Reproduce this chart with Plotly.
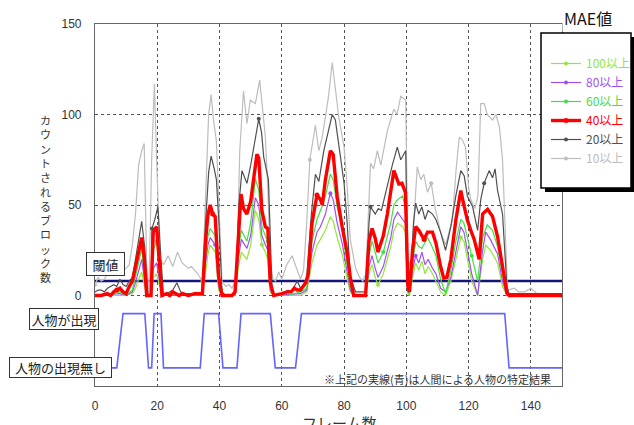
import plotly.graph_objects as go

# ---------------- data (frame, count) ----------------
S10 = [(0,6),(1,10),(2,8),(3,9),(4,12),(5,13),(6,14),(7,12),(8,17),(9,14),(10,15),(11,17),(12,28),(13,45),
       (14,72),(15,80),(15.8,84),(16.6,17),(17.3,0),(18.2,75),(19.1,117),(19.8,75),(20.9,20),(22,17),(23.5,22),
       (25,16),(26.5,24),(28,18),(30,15),(31,16),(33,12),(34.5,8),(35.5,60),(36.5,100),(37.3,111),(38,98),(39,85),
       (40,40),(40.8,8),(42,5),(43,6),(44,4),(45.5,10),(46.5,80),(47.7,113),(48.8,95),(49.9,108),(51.5,106),
       (52.9,119),(54.7,88),(55.5,60),(56.3,18),(57.2,9),(58,8),(59,13),(60,9),(61.6,17),(63.3,22),(64.9,14),
       (66,9),(67,14),(68,40),(69,75),(70.8,94),(71.9,80),(72.9,87),(74,98.5),(75,110),(76.2,128.7),(77.2,113),
       (78.3,98.5),(80,82),(81,60),(82,31),(83.7,15),(85,10),(86,8),(87,12),(88.5,73),(89.5,70),(90.7,80),
       (91.8,72),(93.9,91),(96,103),(97,100),(98.2,110),(99.8,108),(100.5,20),(101.5,15),(103.5,71),(104.6,64),
       (105.6,67),(106.8,57),(108,62),(109.3,48),(111,35),(112.6,28),(114.8,42),(116,70),(117,87.5),(118,86),
       (119,82),(120,60),(120.7,53),(122,48),(123,55),(123.9,106),(125,106),(126,100),(127.7,97),(128.8,100),
       (129.9,93),(130.9,75),(132.5,3),(134.7,4),(136,2),(138,2),(140,4),(142,1),(144,1),(146,0),(150,0)]

S20 = [(0,2),(1,3),(2,3),(3,2),(4,4),(5,5),(6,6),(7,5),(8,9),(9,6),(10,5),(11,8),(12,10),(13,20),(14,30),
       (15,41),(16,26),(17,0),(18,0),(18.3,37),(19.2,42),(20.2,49),(21.2,20),(22,0),(23,1),(24,2),(25,3),
       (26.3,7),(27.5,2),(29,1),(31,1),(33,1),(34.5,2),(35.5,40),(36.5,68),(37.3,77),(38.3,70),(39,64),
       (39.8,40),(40.8,2),(42,0),(44,0),(45.2,3),(46.2,50),(47.2,69),(48.8,62),(49.9,71),(51.2,84),(52.6,97.6),
       (53.5,90),(54.2,76.5),(55.7,64),(56.9,2),(58,0),(60,1),(62,3),(63,2),(64,5),(65,8),(66,4),(67,6),(68,10),
       (69.5,45),(70.8,67),(71.9,63),(73.5,80),(75.1,92),(76.2,100),(77.2,97),(78.3,82),(80,62),(81,40),(82,10),
       (83.7,2),(85,2),(87,2),(88,40),(88.5,49),(90,45),(91,48),(92,47),(93.9,61),(95.5,72),(97.1,82),(98.2,75),
       (99.8,80),(100.5,5),(101.2,2),(102.3,40),(103,51),(104,45),(105,49),(106,42),(107,47),(108.4,45),
       (109.5,42),(111,35),(112.6,25),(114.3,38),(115.9,55),(117.5,69),(118.6,66),(119.6,55),(121.3,49),
       (122.9,36),(123.9,53),(125,62),(126.6,69),(127.7,65),(128.5,70),(129.3,58),(130.9,45),(132.3,5),(133,1),
       (150,1)]

S40 = [(0,0),(2,0),(4,1),(5,0),(6,2),(7,3),(8,4),(9,2),(10,1),(11,5),(12,8),(12.9,15),(13.9,24),(15,32),
       (15.8,21),(16.6,0),(18,0),(18.7,35),(19.8,38),(20.9,14),(21.5,0),(23,1),(24,0),(25,2),(26,1),(27,0),
       (28,1),(30,0),(32,1),(34.5,1),(35.5,30),(36.3,45),(37,50),(37.8,45),(38.6,43.6),(39.7,10.6),(40.8,0),
       (44,0),(45,2),(46,35),(46.9,56),(47.7,48),(48.8,45),(50,52),(51,65),(52,78),(52.6,76),(53.6,47),
       (54.7,38),(55.5,37),(56.3,7),(57.4,0),(60,1),(61.7,2),(63,2),(64,4),(65,3),(66,3),(67.7,7),(68.5,12),
       (69.7,40),(71.3,55.5),(72.4,53),(73,50),(74,64),(75.6,80),(76.5,78),(77.8,54.6),(79.4,38),(81,23.6),
       (82,10),(83.1,0),(86.9,0),(88,30),(89,37),(90,31.6),(90.9,24),(92.6,33),(93.9,45),(95,58),(96,69),
       (97.6,61.6),(98.6,62),(99.7,57),(100.5,5),(101,2),(102,25),(103,38),(104,36),(105.7,31),(106.8,35),
       (108.4,35),(109.5,29),(111,16),(112,9.7),(113,10),(114.3,20),(115.9,41.7),(117.5,58),(118.1,53),
       (119.6,41.7),(120.7,36),(121.8,31),(123.4,20),(124.5,45),(126.1,47.6),(127.7,43.6),(129.3,32.6),
       (130.9,16),(132.3,1.5),(133,0),(150,0)]

S60 = [(0,0),(5,0),(8,2),(10,0),(12,3),(13,10),(14,18),(15,26),(15.8,14),(16.6,0),(18,0),(18.7,25),(19.8,30),
       (20.9,8),(21.5,0),(25,1),(30,0),(34.5,0),(35.5,22),(36.3,33),(37,37),(37.8,35),(38.6,33),(39.7,7),
       (40.8,0),(45,0),(46,25),(47,36),(48,33),(48.8,30),(50,40),(51.5,64.6),(52.6,58),(53.6,38),(54.7,33),
       (55.5,30),(56.3,5),(57.4,0),(62,0),(64,1),(66,2),(68,4),(69.7,30),(71.3,42),(72.9,49),(74,55),(75.6,67),
       (76.5,64),(77.8,49),(79.5,35),(81,18),(82,5),(83.1,0),(87,0),(88,22),(89,30),(90,24),(90.9,18),(92.6,24),
       (93.9,33),(95,40),(96,50),(97.2,53),(98.8,55),(99.7,48),(100.5,3),(101,1),(102,18),(103,30),(104,27),
       (105,26),(106.8,32),(108,28),(109.5,22),(111,9),(112.6,1),(114.3,14),(115.9,30),(117.5,42),(118.5,40),
       (119.6,32),(121,22),(122.9,8),(124.5,32),(126,39),(127.7,36),(129.3,27),(130.9,12),(132.3,1),(133,0),
       (150,0)]

S80 = [(0,0),(8,1),(10,0),(12,2),(13,7),(14,14),(15,20),(15.8,10),(16.6,0),(18,0),(18.7,15),(19.8,18),
       (20.9,5),(21.5,0),(34.5,0),(35.5,18),(36.3,28),(37,32),(37.8,30),(38.6,28),(39.7,5),(40.8,0),(45,0),
       (46,20),(47,31),(48,28),(48.8,26),(50,33),(51.5,54),(52.6,50),(53.6,33),(54.7,28),(55.5,25),(56.3,3),
       (57.4,0),(66,1),(68,3),(69.7,24),(71.3,35),(72.4,38),(74,45),(75.6,56.5),(76.5,53),(77.8,40),(79.5,28),
       (81,13),(82,3),(83.1,0),(87,0),(88,16),(89,22),(90,15),(90.9,10),(92.6,16),(93.9,25),(95,32),(96,42),
       (97.2,46),(98.8,42),(99.7,40),(100.5,2),(101,1),(102,14),(103,22),(104,18),(105,24),(106,17),(107,20),
       (108.4,15),(109.5,12),(111,4),(112.6,2),(114.3,10),(115.9,25),(117.5,38),(118.5,35),(119.6,25),
       (121,12),(122.9,0),(124.5,25),(125.5,35),(127,31),(129.3,23),(130.9,8),(132.3,0),(150,0)]

S100 = [(0,0),(8,0),(12,1),(13,4),(14,9),(15,13),(15.8,6),(16.6,0),(18,0),(18.7,10),(19.8,12),(20.9,3),
        (21.5,0),(34.5,0),(35.5,14),(36.3,23),(37,28),(37.8,26),(38.6,24),(39.7,3),(40.8,0),(45,0),(46,15),
        (47,24),(48,22),(48.8,20),(50,28),(51.5,47),(52.6,42),(53.6,28),(54.7,24),(55.5,20),(56.3,2),(57.4,0),
        (66,0),(68,2),(69.7,18),(71.3,28),(72.4,31),(74,36),(75.6,43.5),(76.5,41),(77.8,32),(79.5,22),(81,9),
        (82,2),(83.1,0),(87,0),(88,12),(89,17),(90,10),(90.9,6),(92.6,12),(93.9,20),(95,27),(96,36),(97.2,40),
        (98.8,38),(99.7,35),(100.5,1),(101,0),(102,10),(103,18),(104,14),(105,19),(106,12),(107,16),(108.4,12),
        (109.5,8),(111,2),(112.6,0),(114.3,8),(115.9,20),(117.5,32),(118.5,30),(119.6,20),(121,8),(122.9,0),
        (124.5,20),(125.5,28),(127,25),(129.3,18),(130.9,5),(132.3,0),(150,0)]

# person present (-10) / absent (-40) line, drawn under the main chart
PERSON = [(0,-40),(7,-40),(9,-10),(16,-10),(17.2,-40),(18.2,-40),(19,-10),(21.2,-10),(22,-40),(33.8,-40),
          (35.1,-10),(39.7,-10),(41.1,-40),(45.6,-40),(46.9,-10),(56.3,-10),(57.9,-40),(64.4,-40),(66.3,-10),
          (131.6,-10),(133,-40),(150,-40)]

THRESHOLD = 8
X_TICKS = [0, 20, 40, 60, 80, 100, 120, 140]
Y_TICKS = [0, 50, 100, 150]

NAMES = ["100以上", "80以上", "60以上", "40以上", "20以上", "10以上"]
COLORS = ["#8fe83a", "#a050f0", "#3fe03f", "#ff0000", "#505050", "#bdbdbd"]

# ---------------- layout geometry ----------------
W, H = 634, 425
L, R, T, B = 95, 72, 24, 39
PW, PH = W - L - R, H - T - B
JP = "Noto Sans CJK JP"


def pxx(px):
    return (px - L) / PW


def pxy(py):
    return (H - B - py) / PH


fig = go.Figure()

# person line
fig.add_trace(go.Scatter(x=[p[0] for p in PERSON], y=[p[1] for p in PERSON], mode="lines",
                         line=dict(color="#6464ff", width=1.6), showlegend=False, hoverinfo="skip"))
# threshold
fig.add_trace(go.Scatter(x=[0, 150], y=[THRESHOLD, THRESHOLD], mode="lines",
                         line=dict(color="#14147a", width=2.6), showlegend=False, hoverinfo="skip"))

series = [S100, S80, S60, S40, S20, S10]
draw_order = [5, 4, 0, 1, 2, 3]  # light grey first, red last
for i in draw_order:
    s = series[i]
    width = 3.4 if i == 3 else 1.2
    msize = 5 if i == 3 else 4
    fig.add_trace(go.Scatter(
        x=[p[0] for p in s], y=[p[1] for p in s], mode="lines+markers",
        name=f"<span style='color:{COLORS[i]}'>{NAMES[i]}</span>",
        legendrank=i + 1,
        line=dict(color=COLORS[i], width=width),
        marker=dict(color=COLORS[i], size=msize, maxdisplayed=4),
    ))

axis_common = dict(showline=True, linecolor="#666666", linewidth=1.2, mirror=True,
                   showgrid=True, gridcolor="#555555", griddash="dot", gridwidth=1,
                   zeroline=False, ticks="",
                   tickfont=dict(family="Liberation Sans", size=12, color="#333333"))

fig.update_layout(
    width=W, height=H,
    margin=dict(l=L, r=R, t=T, b=B, autoexpand=False),
    paper_bgcolor="white", plot_bgcolor="white",
    showlegend=True,
    legend=dict(x=pxx(546), y=pxy(49), xanchor="left", yanchor="top",
                bgcolor="rgba(0,0,0,0)", borderwidth=0,
                font=dict(family=JP, size=12), itemwidth=30, tracegroupgap=0),
    xaxis=dict(range=[0, 150], tickvals=X_TICKS, ticklabelstandoff=8, **axis_common),
    yaxis=dict(range=[-50, 150], tickvals=Y_TICKS, ticklabelstandoff=10, **axis_common),
)

# legend box with drop shadow
fig.add_shape(type="rect", xref="paper", yref="paper", x0=pxx(545), x1=pxx(635), y0=pxy(192), y1=pxy(37),
              fillcolor="black", line=dict(width=0), layer="above")
fig.add_shape(type="rect", xref="paper", yref="paper", x0=pxx(541), x1=pxx(631), y0=pxy(188), y1=pxy(33),
              fillcolor="white", line=dict(color="black", width=1.5), layer="above")

ann = []
ann.append(dict(text="MAE値", x=pxx(588), y=pxy(18), font=dict(family=JP, size=16, color="#111111"),
                bgcolor="white"))
ann.append(dict(text="閾値", x=pxx(105.5), y=pxy(264), font=dict(family=JP, size=13, color="#222222"),
                bgcolor="white", bordercolor="#333333", borderwidth=1, borderpad=0, width=37, height=22))
ann.append(dict(text="人物が出現", x=pxx(64), y=pxy(319), font=dict(family=JP, size=13, color="#222222"),
                bgcolor="white", bordercolor="#333333", borderwidth=1, borderpad=0, width=68, height=20))
ann.append(dict(text="人物の出現無し", x=pxx(60.5), y=pxy(367.5), font=dict(family=JP, size=13, color="#222222"),
                bgcolor="white", bordercolor="#333333", borderwidth=1, borderpad=0, width=101, height=19))
ann.append(dict(text="※上記の実線(青)は人間による人物の特定結果", x=pxx(437), y=pxy(379),
                font=dict(family=JP, size=11, color="#333333")))
ann.append(dict(text="<br>".join(list("カウントされるブロック数")), x=pxx(45), y=pxy(198),
                font=dict(family=JP, size=11, color="#333333")))
ann.append(dict(text="フレーム数", x=pxx(339), y=pxy(422), font=dict(family=JP, size=15, color="#333333")))
for a in ann:
    a.update(xref="paper", yref="paper", xanchor="center", yanchor="middle", showarrow=False)
fig.update_layout(annotations=ann)

fig.write_html("out.html", config={"displayModeBar": False},
               post_script="document.body.style.margin='0px';")
